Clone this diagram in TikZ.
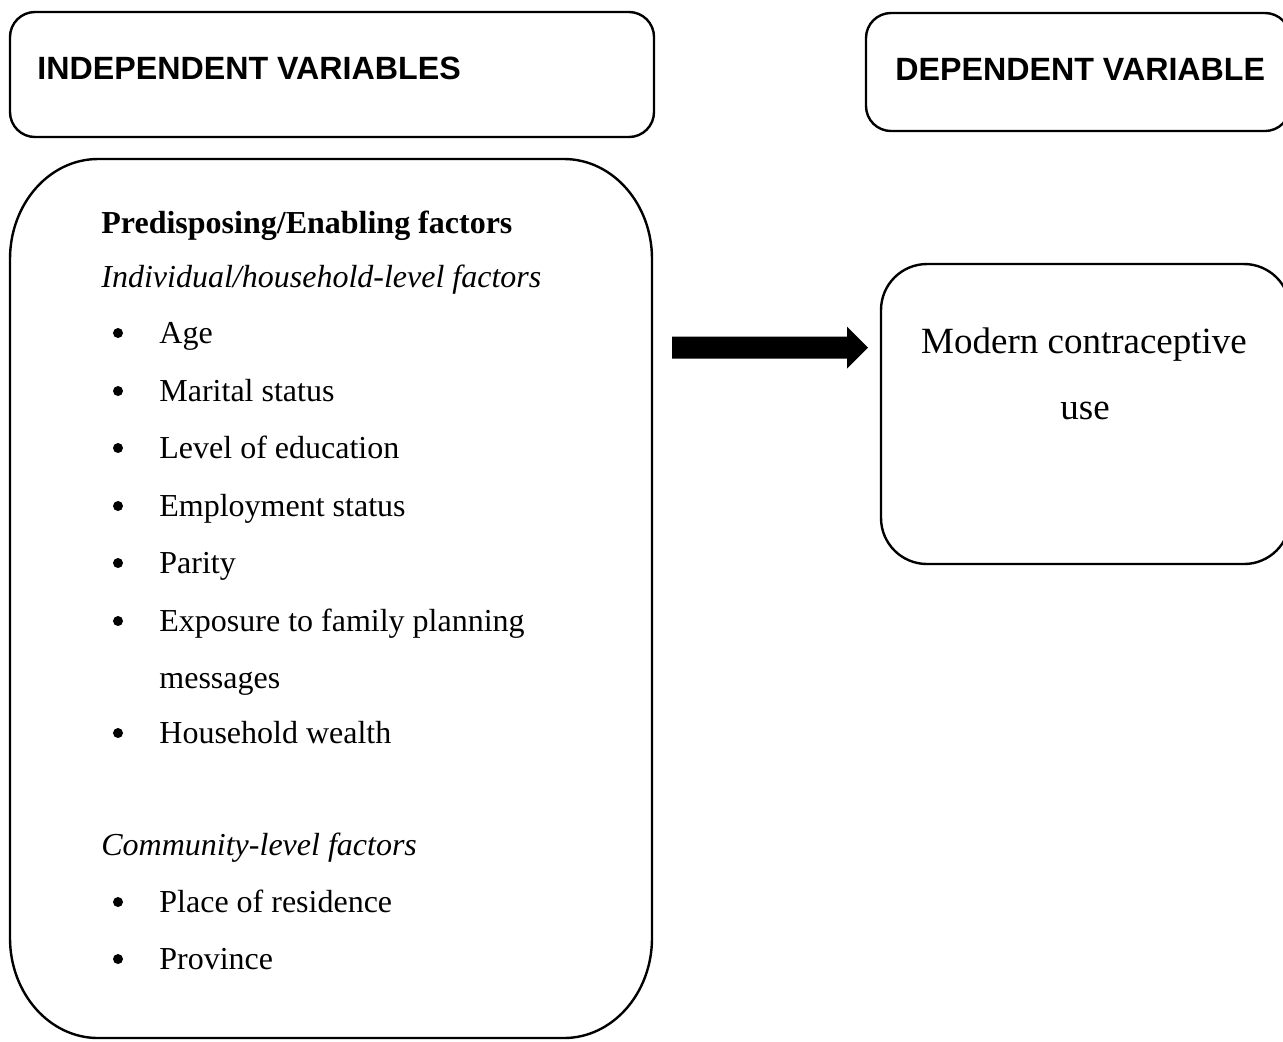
\documentclass[tikz,border=0pt]{standalone}
\usepackage{fontspec}
\setmainfont{Liberation Serif}
\newfontfamily\headfont{Liberation Sans}
\begin{document}
\begin{tikzpicture}[x=0.5pt,y=-0.5pt,
  frame/.style={draw=black, line width=1.2pt, inner sep=0pt},
  headtxt/.style={anchor=base west, inner sep=0pt, font=\headfont\bfseries\fontsize{16.1}{19}\selectfont},
  bodytxt/.style={anchor=base west, inner sep=0pt, font=\fontsize{16}{19}\selectfont},
  bul/.style={circle, fill=black, inner sep=0pt, minimum size=5pt},
  bigtxt/.style={anchor=base, inner sep=0pt, font=\fontsize{18.5}{22}\selectfont}]
\useasboundingbox (0,0) rectangle (1283,1041);
\clip (0,0) rectangle (1283,1041);
% header boxes
\node[frame, rounded corners=12.5pt, minimum width=322pt, minimum height=62.5pt] (indepbox) at (332,74.5) {};
\node[headtxt] (indeptxt) at (37,79) {INDEPENDENT VARIABLES};
\node[frame, rounded corners=12.5pt, minimum width=212pt, minimum height=59pt] (depbox) at (1078,72) {};
\node[headtxt] (deptxt) at (895,80) {DEPENDENT VARIABLE};
% big box with elliptical corners
\draw[line width=1.2pt] (98,159) -- (564,159)
  arc[start angle=90, end angle=0, x radius=88, y radius=-100] -- (652,938)
  arc[start angle=0, end angle=-90, x radius=88, y radius=-100] -- (98,1038)
  arc[start angle=270, end angle=180, x radius=88, y radius=-100] -- (10,259)
  arc[start angle=180, end angle=90, x radius=88, y radius=-100] -- cycle;
\coordinate (bigbox) at (331,598);
% texts in big box
\node[bodytxt, font=\bfseries\fontsize{16}{19}\selectfont] (pre) at (101,233) {Predisposing/Enabling factors};
\node[bodytxt, font=\itshape\fontsize{16}{19}\selectfont] (ind) at (101,287) {Individual/household-level factors};
\node[bul] (b1) at (118,333) {};
\node[bodytxt] (t1) at (159,343) {Age};
\node[bul] (b2) at (118,391) {};
\node[bodytxt] (t2) at (159,401) {Marital status};
\node[bul] (b3) at (118,448) {};
\node[bodytxt] (t3) at (159,458) {Level of education};
\node[bul] (b4) at (118,506) {};
\node[bodytxt] (t4) at (159,516) {Employment status};
\node[bul] (b5) at (118,563) {};
\node[bodytxt] (t5) at (159,573) {Parity};
\node[bul] (b6) at (118,621) {};
\node[bodytxt] (t6) at (159,631) {Exposure to family planning};
\node[bodytxt] (t6b) at (159,688) {messages};
\node[bul] (b7) at (118,733) {};
\node[bodytxt] (t7) at (159,743) {Household wealth};
\node[bodytxt, font=\itshape\fontsize{16}{19}\selectfont] (com) at (101,855) {Community-level factors};
\node[bul] (b8) at (118,902) {};
\node[bodytxt] (t8) at (159,912) {Place of residence};
\node[bul] (b9) at (118,959) {};
\node[bodytxt] (t9) at (159,969) {Province};
% outcome box
\node[frame, rounded corners=23pt, minimum width=204.5pt, minimum height=150pt] (outbox) at (1085.5,414) {};
\node[bigtxt] (out1) at (1084,353) {Modern contraceptive};
\node[bigtxt] (out2) at (1085,419) {use};
% block arrow
\coordinate (arrS) at (672,347.5);
\coordinate (arrE) at (868,347.5);
\fill[black] (arrS) ++(0,-11) -- ++(175,0) -- ++(0,-10) -- (arrE) -- ++(-21,21) -- ++(0,-10) -- ++(-175,0) -- cycle;
\end{tikzpicture}
\end{document}
